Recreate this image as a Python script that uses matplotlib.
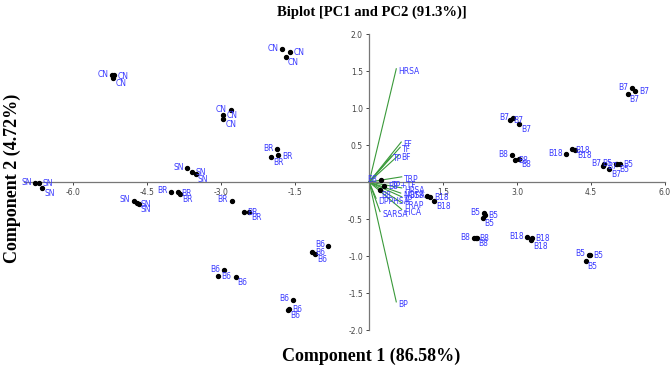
import numpy as np
import matplotlib.pyplot as plt

# sample scores (PC1, PC2), three replicate clusters per treatment
sample_labels = (['CN'] * 9 + ['SN'] * 9 + ['BR'] * 9 + ['B6'] * 9 +
                 ['B7'] * 9 + ['B5'] * 9 + ['B8'] * 9 + ['B18'] * 9)
pc1 = [-5.22, -5.17, -5.19, -1.76, -1.60, -1.69, -2.81, -2.96, -2.96,
       -3.69, -3.59, -3.52, -6.77, -6.69, -6.63, -4.77, -4.71, -4.67,
       -1.87, -1.84, -1.99, -4.02, -3.88, -3.83, -2.79, -2.54, -2.43,
       -0.83, -1.16, -1.09, -2.94, -3.06, -2.71, -1.54, -1.62, -1.65,
       5.33, 5.40, 5.24, 2.91, 2.86, 3.04, 4.77, 4.75, 4.87,
       5.00, 5.09, 5.02, 2.32, 2.35, 2.30, 4.45, 4.47, 4.39,
       2.89, 2.95, 3.04, 2.12, 2.16, 2.18, 0.24, 0.31, 0.21,
       3.99, 4.11, 4.18, 1.17, 1.24, 1.32, 3.20, 3.30, 3.29]
pc2 = [1.45, 1.44, 1.40, 1.80, 1.76, 1.69, 0.97, 0.91, 0.85,
       0.19, 0.14, 0.11, -0.01, -0.01, -0.08, -0.25, -0.29, -0.30,
       0.44, 0.36, 0.34, -0.13, -0.14, -0.16, -0.25, -0.40, -0.40,
       -0.86, -0.94, -0.97, -1.19, -1.27, -1.28, -1.59, -1.72, -1.73,
       1.27, 1.23, 1.19, 0.86, 0.84, 0.79, 0.24, 0.22, 0.17,
       0.24, 0.25, 0.24, -0.42, -0.44, -0.48, -0.98, -0.98, -1.07,
       0.36, 0.30, 0.31, -0.76, -0.75, -0.76, 0.03, -0.05, -0.11,
       0.38, 0.44, 0.43, -0.19, -0.20, -0.25, -0.74, -0.75, -0.79]

# variable loadings
var_names = ['HRSA', 'FF', 'TF', 'BF', 'TP', 'TRP', 'TP+TF', 'HPSA', 'NOSA',
             'TP', 'DPPHSA', 'FRAP', 'SARSA', 'FICA', 'BP']
load1 = [0.55, 0.65, 0.63, 0.61, 0.45, 0.66, 0.42, 0.66, 0.64,
         0.66, 0.14, 0.66, 0.22, 0.66, 0.55]
load2 = [1.53, 0.54, 0.47, 0.37, 0.35, 0.07, -0.01, -0.08, -0.15,
         -0.20, -0.22, -0.28, -0.40, -0.37, -1.62]

xticks = [-6.0, -4.5, -3.0, -1.5, 1.5, 3.0, 4.5, 6.0]
yticks = [-2.0, -1.5, -1.0, -0.5, 0.5, 1.0, 1.5, 2.0]

fig = plt.figure(figsize=(6.72, 3.72), dpi=100)
ax = fig.add_axes([0.0357, 0.1129, 0.9539, 0.7957])

# loading vectors
for name, lx, ly in zip(var_names, load1, load2):
    ax.plot([0, lx], [0, ly], color='#3a9a3a', lw=0.8, zorder=2)
    ax.annotate(name, (lx, ly), xytext=(1.5, -2), textcoords='offset points',
                fontsize=5.5, color='#3b3bff', va='center', ha='left')

# sample points
ax.scatter(pc1, pc2, s=8, color='black', zorder=3)
offsets = [(-2.5, 0.5, 'right'), (2.5, -0.5, 'left'), (1.5, -4, 'left')]
for i, (lab, x, y) in enumerate(zip(sample_labels, pc1, pc2)):
    dx, dy, ha = offsets[i % 3]
    ax.annotate(lab, (x, y), xytext=(dx, dy), textcoords='offset points',
                fontsize=5.5, color='#3b3bff', va='center', ha=ha)

ax.set_xlim(-7, 6)
ax.set_ylim(-2, 2)
ax.spines['left'].set_position(('data', 0))
ax.spines['bottom'].set_position(('data', 0))
ax.spines['top'].set_visible(False)
ax.spines['right'].set_visible(False)
for s in ['left', 'bottom']:
    ax.spines[s].set_color('#777777')
    ax.spines[s].set_linewidth(0.9)
ax.set_xticks(xticks)
ax.set_yticks(yticks)
ax.set_xticklabels(['%.1f' % t for t in xticks])
ax.set_yticklabels(['%.1f' % t for t in yticks])
ax.tick_params(labelsize=5.5, colors='#444444', length=2.5, width=0.7, pad=2)
ax.patch.set_alpha(0)

fig.text(0.553, 0.968, 'Biplot [PC1 and PC2 (91.3%)]', ha='center', va='center',
         fontsize=10.5, fontweight='bold', family='Liberation Serif')
fig.text(0.552, 0.043, 'Component 1 (86.58%)', ha='center', va='center',
         fontsize=13, fontweight='bold', family='Liberation Serif')
fig.text(0.018, 0.52, 'Component 2 (4.72%)', ha='center', va='center',
         rotation=90, fontsize=13, fontweight='bold', family='Liberation Serif')

plt.savefig('out.png', dpi=100)
